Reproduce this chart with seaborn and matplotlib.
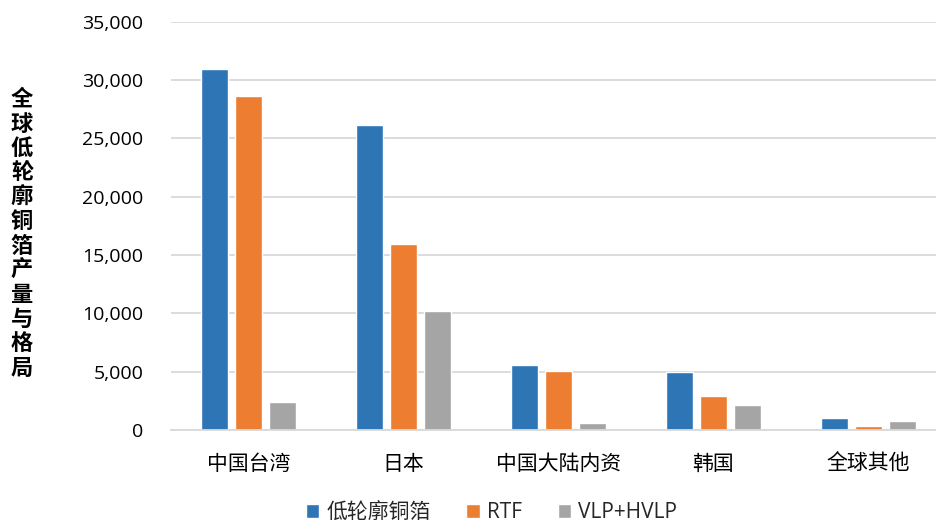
import matplotlib
matplotlib.use("Agg")
import matplotlib.pyplot as plt
import matplotlib.ticker as mticker
import pandas as pd
import seaborn as sns

# Regions and product-series output values
regions = ["中国台湾", "日本", "中国大陆内资", "韩国", "全球其他"]
series = ["低轮廓铜箔", "RTF", "VLP+HVLP"]
low_profile = [30900, 26100, 5600, 4980, 1030]
rtf = [28600, 15900, 5050, 2940, 340]
vlp_hvlp = [2400, 10200, 570, 2110, 770]
colors = ["#2E75B6", "#ED7D31", "#A5A5A5"]
y_title = "全球低轮廓铜箔产量与格局"

rows = []
for name, vals in zip(series, [low_profile, rtf, vlp_hvlp]):
    for reg, v in zip(regions, vals):
        rows.append({"region": reg, "series": name, "value": v})
df = pd.DataFrame(rows)

sns.set_theme(style="white")
plt.rcParams["font.family"] = ["Open Sans", "Noto Sans CJK SC", "DejaVu Sans"]

W, H = 936, 525
fig = plt.figure(figsize=(W / 100, H / 100), dpi=100)
left, right, top, bottom = 171, 946, 21.5, 430
ax = fig.add_axes([left / W, (H - bottom) / H, (right - left) / W, (bottom - top) / H])

sns.barplot(data=df, x="region", y="value", hue="series", order=regions,
            hue_order=series, palette=colors, saturation=1,
            width=0.664, gap=0.21, ax=ax, errorbar=None)

ax.set_ylim(0, 35000)
ax.yaxis.set_major_locator(mticker.MultipleLocator(5000))
ax.yaxis.set_major_formatter(mticker.StrMethodFormatter("{x:,.0f}"))
ax.set_xlabel("")
ax.set_ylabel("")
ax.yaxis.grid(True, color="#D9D9D9", linewidth=1.3)
ax.set_axisbelow(True)
for s in ["left", "right", "top"]:
    ax.spines[s].set_visible(False)
ax.spines["bottom"].set_color("#D9D9D9")
ax.spines["bottom"].set_linewidth(1.3)
ax.tick_params(axis="y", length=0, pad=20, labelsize=14, labelcolor="#000000")
ax.tick_params(axis="x", length=0, pad=17, labelsize=15, labelcolor="#000000")

# Vertical stacked axis title
fig.text(22 / W, (H - 234) / H, "\n".join(y_title), ha="center", va="center",
         fontsize=16, fontweight="heavy", linespacing=1.08,
         family=["Noto Sans CJK SC", "DejaVu Sans"], color="#000000")

handles, labels = ax.get_legend_handles_labels()
ax.legend(handles, labels, loc="center", bbox_to_anchor=(491.5 / W, 12 / H),
          bbox_transform=fig.transFigure, ncol=3, frameon=False, fontsize=15,
          handlelength=0.65, handleheight=0.65, handletextpad=0.35,
          columnspacing=1.7, borderaxespad=0)

fig.savefig("out.png", dpi=100)
